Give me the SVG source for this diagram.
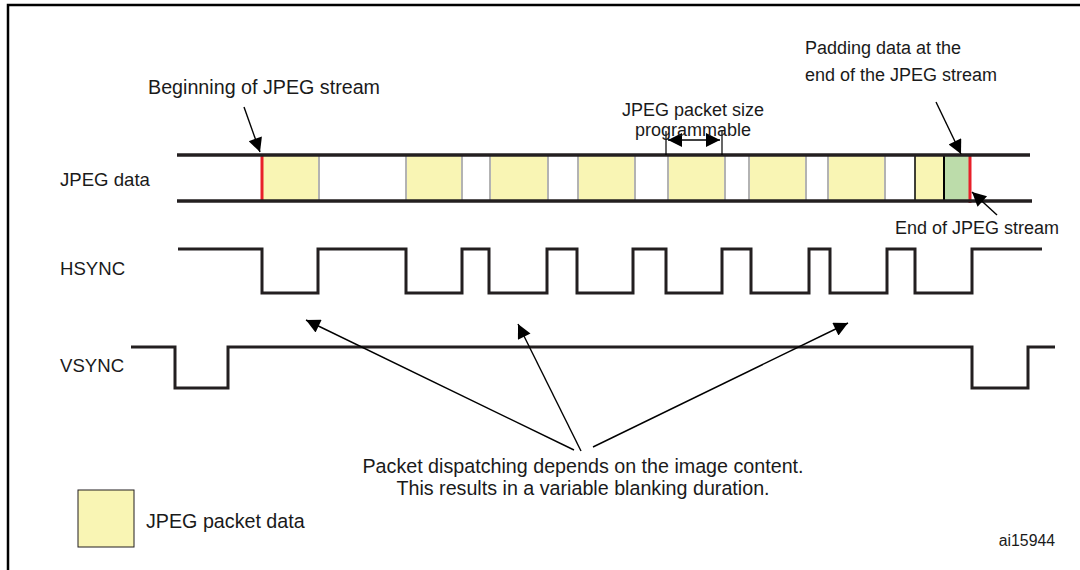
<svg xmlns="http://www.w3.org/2000/svg" width="1080" height="570" viewBox="0 0 1080 570">
<defs>
<style>
text{font-family:"Liberation Sans",Arial,sans-serif;font-size:18px;fill:#1a1a1a}
.big{font-size:19.7px}
.lbl{font-size:18.6px}
.sig{fill:none;stroke:#231f20;stroke-width:3;stroke-linejoin:miter}
.bus{stroke:#231f20;stroke-width:3.5}
.pkt{fill:#f9f5b4;stroke:none}
.sep{stroke:#b3b3b3;stroke-width:2}
.arr{stroke:#000;stroke-width:1.4;fill:none}
</style>
<marker id="ahb" viewBox="0 0 10 10" refX="10" refY="5" markerWidth="17" markerHeight="14" markerUnits="userSpaceOnUse" orient="auto-start-reverse">
<path d="M0,0 L10,5 L0,10 z" fill="#000"/>
</marker>
</defs>
<rect width="1080" height="570" fill="#fff"/>
<path d="M8,570 V5 H1080" fill="none" stroke="#000" stroke-width="2.5"/>

<g id="labels">
<text class="lbl" x="60" y="186">JPEG data</text>
<text class="lbl" x="60" y="275">HSYNC</text>
<text class="lbl" x="60" y="372">VSYNC</text>
</g>

<g id="jpeg-data">
<rect class="pkt" x="262" y="156" width="56" height="44"/>
<rect class="pkt" x="406" y="156" width="56" height="44"/>
<rect class="pkt" x="490" y="156" width="58" height="44"/>
<rect class="pkt" x="578" y="156" width="56" height="44"/>
<rect class="pkt" x="668" y="156" width="56" height="44"/>
<rect class="pkt" x="749" y="156" width="56" height="44"/>
<rect class="pkt" x="828" y="156" width="56" height="44"/>
<rect class="pkt" x="915" y="156" width="29" height="44"/>
<rect x="945" y="156" width="24" height="44" fill="#bcdcaa"/>
<g class="sep">
<line x1="319" y1="156" x2="319" y2="200"/>
<line x1="406" y1="156" x2="406" y2="200"/>
<line x1="462" y1="156" x2="462" y2="200"/>
<line x1="490" y1="156" x2="490" y2="200"/>
<line x1="548" y1="156" x2="548" y2="200"/>
<line x1="578" y1="156" x2="578" y2="200"/>
<line x1="635" y1="156" x2="635" y2="200"/>
<line x1="668" y1="156" x2="668" y2="200"/>
<line x1="725" y1="156" x2="725" y2="200"/>
<line x1="749" y1="156" x2="749" y2="200"/>
<line x1="806" y1="156" x2="806" y2="200"/>
<line x1="828" y1="156" x2="828" y2="200"/>
<line x1="885" y1="156" x2="885" y2="200"/>
</g>
<line x1="915" y1="156" x2="915" y2="200" stroke="#000" stroke-width="1.5"/>
<line x1="944" y1="156" x2="944" y2="200" stroke="#000" stroke-width="2"/>
<line x1="262" y1="155" x2="262" y2="202" stroke="#e8202a" stroke-width="3"/>
<line x1="970" y1="155" x2="970" y2="203" stroke="#e8202a" stroke-width="3"/>
<line class="bus" x1="177" y1="155" x2="1030" y2="155"/>
<line class="bus" x1="177" y1="201" x2="1032" y2="201"/>
</g>

<g id="hsync">
<path class="sig" d="M178,249 H262 V293 H318 V249 H406 V293 H462 V249 H489 V293 H547 V249 H577 V293 H633 V249 H666 V293 H722 V249 H751 V293 H809 V249 H830 V293 H887 V249 H915 V293 H972 V249 H1042"/>
</g>

<g id="vsync">
<path class="sig" d="M131,347 H175 V388 H228 V347 H972 V388 H1028 V347 H1055"/>
</g>

<g id="packet-size">
<line x1="666" y1="131" x2="666" y2="155" stroke="#000" stroke-width="1.2"/>
<line x1="722" y1="131" x2="722" y2="155" stroke="#000" stroke-width="1.2"/>
<line class="arr" x1="668" y1="140" x2="720" y2="140" marker-start="url(#ahb)" marker-end="url(#ahb)"/>
<text x="693" y="116" text-anchor="middle">JPEG packet size</text>
<text x="693" y="136" text-anchor="middle">programmable</text>
</g>

<g id="annotations">
<text class="big" x="148" y="94">Beginning of JPEG stream</text>
<text x="805" y="54">Padding data at the</text>
<text x="805" y="81">end of the JPEG stream</text>
<text x="895" y="234">End of JPEG stream</text>
</g>

<g id="connectors">
<line class="arr" x1="244" y1="107" x2="260" y2="152" marker-end="url(#ahb)"/>
<line class="arr" x1="936" y1="102" x2="961" y2="154" marker-end="url(#ahb)"/>
<line class="arr" x1="997" y1="215" x2="972" y2="192" marker-end="url(#ahb)"/>
<line class="arr" x1="574" y1="450" x2="306" y2="320" marker-end="url(#ahb)"/>
<line class="arr" x1="581" y1="451" x2="518" y2="324" marker-end="url(#ahb)"/>
<line class="arr" x1="593" y1="447" x2="848" y2="323" marker-end="url(#ahb)"/>
</g>

<g id="note">
<text class="big" x="583" y="473" text-anchor="middle">Packet dispatching depends on the image content.</text>
<text class="big" x="583" y="495" text-anchor="middle">This results in a variable blanking duration.</text>
</g>

<g id="legend">
<rect x="78" y="490" width="56" height="57" fill="#f9f5b4" stroke="#231f20" stroke-width="1"/>
<text class="big" x="146" y="528">JPEG packet data</text>
</g>

<text x="1055" y="546" text-anchor="end" style="font-size:15.8px">ai15944</text>
</svg>
